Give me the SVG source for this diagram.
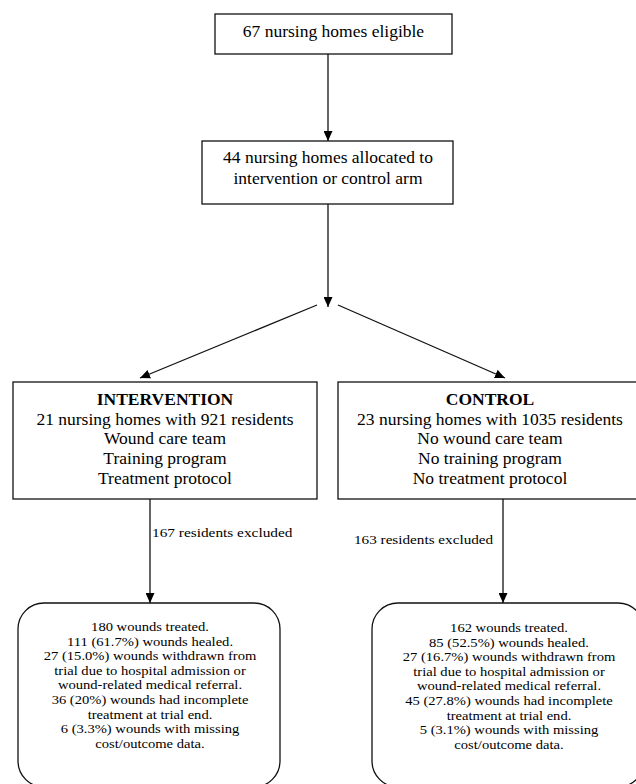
<svg xmlns="http://www.w3.org/2000/svg" width="636" height="784" viewBox="0 0 636 784">
<style>
.box{fill:#fff;stroke:#111;stroke-width:1.3}
.t{font-family:"Liberation Serif","Times New Roman",serif;fill:#000;text-anchor:middle}
.m{font-size:17.5px}
.b{font-weight:bold}
.s{font-size:13.5px}
.x{font-size:13px;text-anchor:start}
.c{stroke:#111;stroke-width:1.3;fill:none;marker-end:url(#ah)}
</style>
<defs>
<marker id="ah" markerUnits="userSpaceOnUse" markerWidth="11" markerHeight="9" refX="10" refY="4.5" orient="auto">
<path d="M0,0 L10,4.5 L0,9 Z" fill="#000"/>
</marker>
</defs>
<rect width="636" height="784" fill="#fff"/>
<g id="connectors">
<line class="c" x1="328" y1="54" x2="328" y2="141"/>
<line class="c" x1="328" y1="204" x2="328" y2="307"/>
<line class="c" x1="317" y1="305" x2="140" y2="378"/>
<line class="c" x1="338" y1="305" x2="505" y2="378"/>
<line class="c" x1="150" y1="499" x2="150" y2="603"/>
<line class="c" x1="503" y1="499" x2="503" y2="603"/>
<g transform="translate(152,537) scale(1.18,1)"><text class="t x" x="0" y="0">167 residents excluded</text></g>
<g transform="translate(354,544) scale(1.17,1)"><text class="t x" x="0" y="0">163 residents excluded</text></g>
</g>
<g id="eligible">
<rect class="box" x="215" y="14" width="237" height="40"/>
<text class="t m" x="333.5" y="37">67 nursing homes eligible</text>
</g>
<g id="allocated">
<rect class="box" x="202" y="141" width="251" height="63"/>
<text class="t m" x="328" y="163">44 nursing homes allocated to</text>
<text class="t m" x="328" y="184">intervention or control arm</text>
</g>
<g id="intervention">
<rect class="box" x="13" y="382" width="304" height="117"/>
<text class="t m b" x="165" y="405">INTERVENTION</text>
<text class="t m" x="165" y="425">21 nursing homes with 921 residents</text>
<text class="t m" x="165" y="444">Wound care team</text>
<text class="t m" x="165" y="464">Training program</text>
<text class="t m" x="165" y="484">Treatment protocol</text>
</g>
<g id="control">
<rect class="box" x="338" y="382" width="306" height="117"/>
<text class="t m b" x="490" y="405">CONTROL</text>
<text class="t m" x="490" y="425">23 nursing homes with 1035 residents</text>
<text class="t m" x="490" y="444">No wound care team</text>
<text class="t m" x="490" y="464">No training program</text>
<text class="t m" x="490" y="484">No treatment protocol</text>
</g>
<g id="intervention-outcome">
<rect class="box" x="18" y="603" width="262" height="184" rx="26"/>
<g transform="translate(150,0) scale(1.08,1)">
<text class="t s" x="0" y="631">180 wounds treated.</text>
<text class="t s" x="0" y="645.6">111 (61.7%) wounds healed.</text>
<text class="t s" x="0" y="660.2">27 (15.0%) wounds withdrawn from</text>
<text class="t s" x="0" y="674.8">trial due to hospital admission or</text>
<text class="t s" x="0" y="689.4">wound-related medical referral.</text>
<text class="t s" x="0" y="704">36 (20%) wounds had incomplete</text>
<text class="t s" x="0" y="718.6">treatment at trial end.</text>
<text class="t s" x="0" y="733.2">6 (3.3%) wounds with missing</text>
<text class="t s" x="0" y="747.8">cost/outcome data.</text>
</g>
</g>
<g id="control-outcome">
<rect class="box" x="372" y="603" width="272" height="184" rx="26"/>
<g transform="translate(509,0) scale(1.08,1)">
<text class="t s" x="0" y="632">162 wounds treated.</text>
<text class="t s" x="0" y="646.6">85 (52.5%) wounds healed.</text>
<text class="t s" x="0" y="661.2">27 (16.7%) wounds withdrawn from</text>
<text class="t s" x="0" y="675.8">trial due to hospital admission or</text>
<text class="t s" x="0" y="690.4">wound-related medical referral.</text>
<text class="t s" x="0" y="705">45 (27.8%) wounds had incomplete</text>
<text class="t s" x="0" y="719.6">treatment at trial end.</text>
<text class="t s" x="0" y="734.2">5 (3.1%) wounds with missing</text>
<text class="t s" x="0" y="748.8">cost/outcome data.</text>
</g>
</g>
</svg>
